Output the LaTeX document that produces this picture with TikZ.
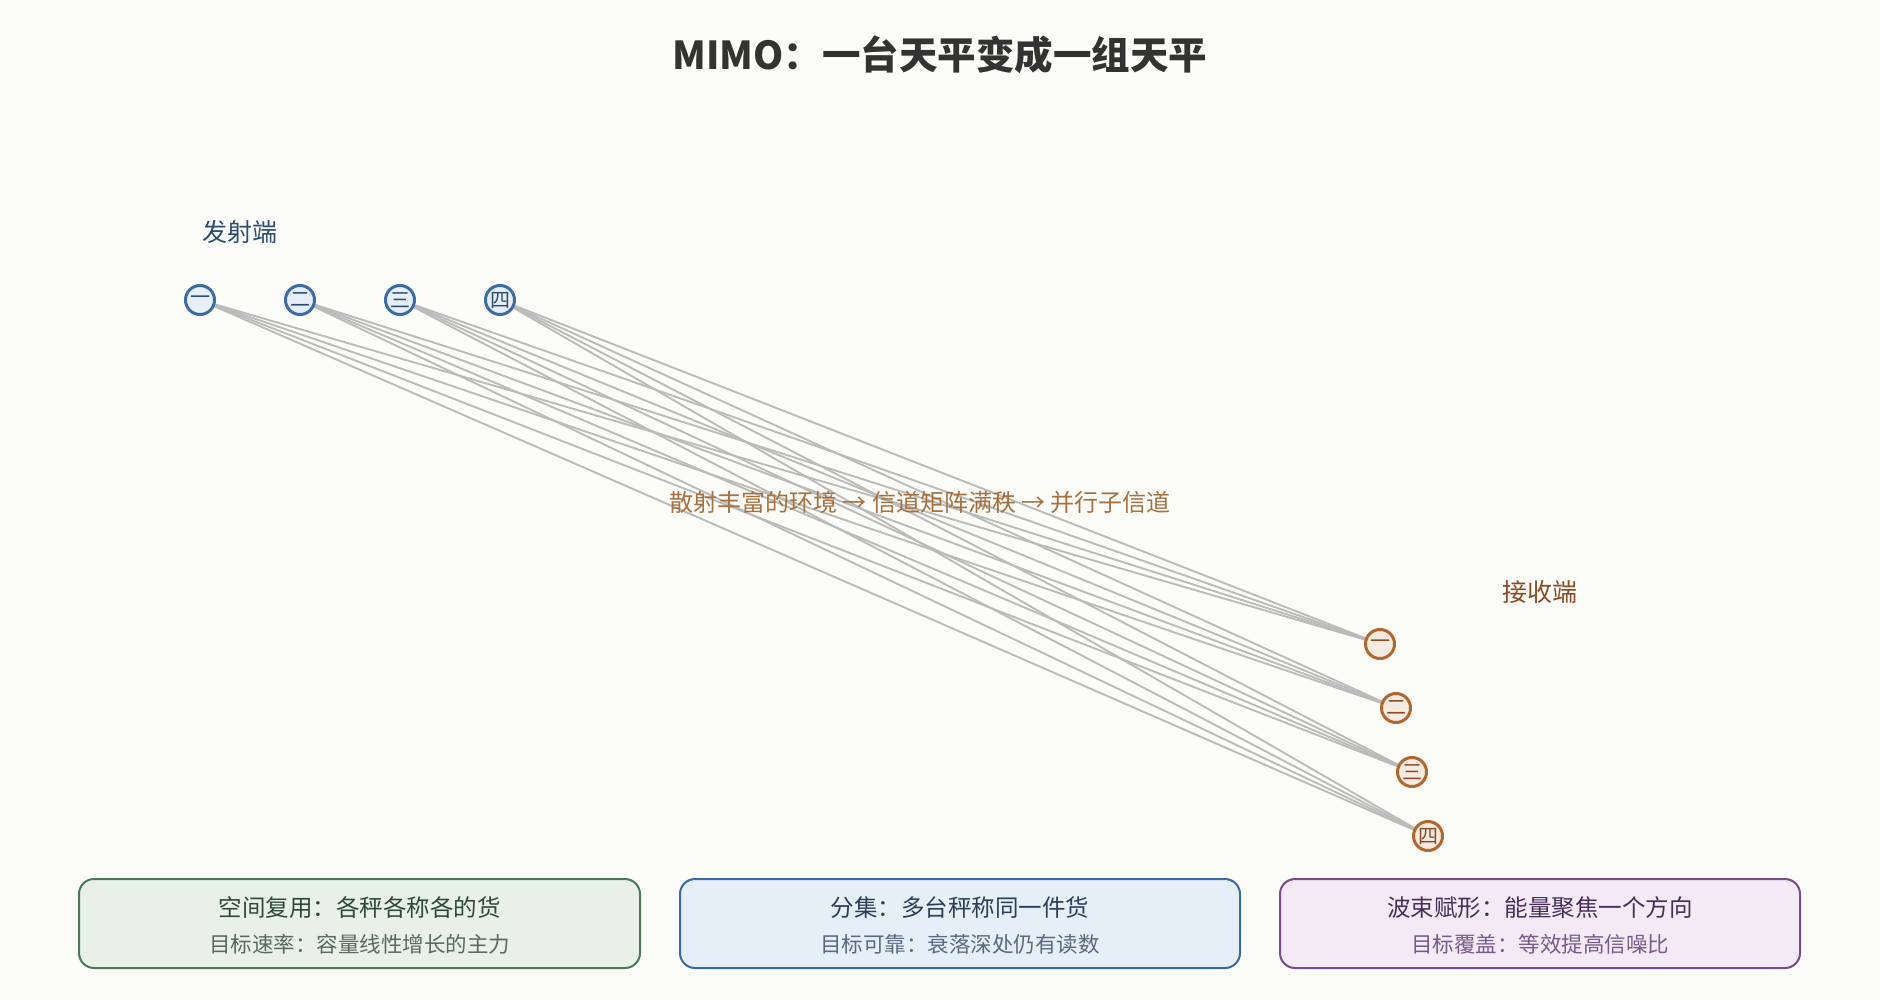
\documentclass[tikz,border=0pt]{standalone}
\usepackage{fontspec}
\setmainfont{Noto Sans CJK SC}
\usetikzlibrary{backgrounds}
\definecolor{bg}{HTML}{FCFCF8}
\definecolor{titlec}{HTML}{333333}
\definecolor{txline}{HTML}{3B6CA5}
\definecolor{txfill}{HTML}{E6EEF8}
\definecolor{txtext}{HTML}{2B4C70}
\definecolor{rxline}{HTML}{B5662F}
\definecolor{rxfill}{HTML}{F6EBE3}
\definecolor{rxtext}{HTML}{8B4A25}
\definecolor{midtext}{HTML}{A8703F}
\definecolor{linkc}{HTML}{BBBBBB}
\definecolor{gline}{HTML}{4A7A5A}
\definecolor{gfill}{HTML}{E8F0E7}
\definecolor{gtext}{HTML}{2E4A36}
\definecolor{gsub}{HTML}{5A6A5E}
\definecolor{bline}{HTML}{3A6AA5}
\definecolor{bfill}{HTML}{E6EEF8}
\definecolor{btext}{HTML}{2B3F5A}
\definecolor{bsub}{HTML}{5A6A80}
\definecolor{pline}{HTML}{7A4A8E}
\definecolor{pfill}{HTML}{F3EAF6}
\definecolor{ptext}{HTML}{4A2E5A}
\definecolor{psub}{HTML}{7A5A8A}
\tikzset{
  tx/.style={circle, draw=txline, fill=txfill, line width=3pt, minimum size=29pt, inner sep=0pt, text=txtext, font=\fontsize{20}{20}\selectfont},
  rx/.style={circle, draw=rxline, fill=rxfill, line width=3pt, minimum size=29pt, inner sep=0pt, text=rxtext, font=\fontsize{20}{20}\selectfont},
  link/.style={draw=linkc, line width=1.9pt},
  card/.style={rounded corners=15pt, line width=2pt, minimum width=#1, minimum height=89pt},
  line1/.style={font=\fontsize{23.5}{25}\selectfont},
  line2/.style={font=\fontsize{21.5}{23}\selectfont},
}
\begin{document}
\begin{tikzpicture}[x=1pt, y=-1pt]
\useasboundingbox (0,0) rectangle (1880,1000);
\begin{scope}[on background layer]
\fill[bg] (0,0) rectangle (1880,1000);
\end{scope}
% title
\node[text=titlec, font=\fontsize{38.5}{40}\selectfont\bfseries] (title) at (940,55) {MIMO：一台天平变成一组天平};
% side labels
\node[text=txtext, font=\fontsize{25}{26}\selectfont] (txlabel) at (240,232) {发射端};
\node[text=rxtext, font=\fontsize{25}{26}\selectfont] (rxlabel) at (1540,592) {接收端};
% antennas
\node[tx] (t1) at (200,300) {一};
\node[tx] (t2) at (300,300) {二};
\node[tx] (t3) at (400,300) {三};
\node[tx] (t4) at (500,300) {四};
\node[rx] (r1) at (1380,644) {一};
\node[rx] (r2) at (1396,708) {二};
\node[rx] (r3) at (1412,772) {三};
\node[rx] (r4) at (1428,836) {四};
% links
\begin{scope}[on background layer]
\foreach \i in {1,2,3,4}{
  \foreach \j in {1,2,3,4}{
    \draw[link] (t\i.center) -- (r\j.center);
  }
}
\end{scope}
% middle label
\node[text=midtext, font=\fontsize{24}{25}\selectfont] (mid) at (920,502) {散射丰富的环境 → 信道矩阵满秩 → 并行子信道};
% cards
\node[card=561pt, draw=gline, fill=gfill] (c1) at (359.5,923.5) {};
\node[line1, text=gtext] (c1a) at (359.5,908) {空间复用：各秤各称各的货};
\node[line2, text=gsub] (c1b) at (359.5,944) {目标速率：容量线性增长的主力};
\node[card=560pt, draw=bline, fill=bfill] (c2) at (960,923.5) {};
\node[line1, text=btext] (c2a) at (960,908) {分集：多台秤称同一件货};
\node[line2, text=bsub] (c2b) at (960,944) {目标可靠：衰落深处仍有读数};
\node[card=520pt, draw=pline, fill=pfill] (c3) at (1540,923.5) {};
\node[line1, text=ptext] (c3a) at (1540,908) {波束赋形：能量聚焦一个方向};
\node[line2, text=psub] (c3b) at (1540,944) {目标覆盖：等效提高信噪比};
\end{tikzpicture}
\end{document}
